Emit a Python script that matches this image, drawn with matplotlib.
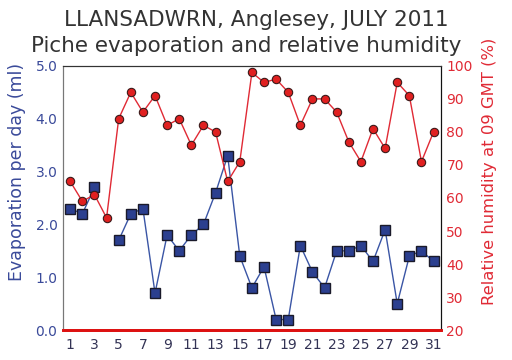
import numpy as np
import matplotlib
matplotlib.use('Agg')
import matplotlib.pyplot as plt

# daily values, July 2011 (day 4 evaporation missing)
days = list(range(1, 32))
evaporation = [2.3, 2.2, 2.7, np.nan, 1.7, 2.2, 2.3, 0.7, 1.8, 1.5,
               1.8, 2.0, 2.6, 3.3, 1.4, 0.8, 1.2, 0.2, 0.2, 1.6,
               1.1, 0.8, 1.5, 1.5, 1.6, 1.3, 1.9, 0.5, 1.4, 1.5, 1.3]
humidity = [65, 59, 61, 54, 84, 92, 86, 91, 82, 84,
            76, 82, 80, 65, 71, 98, 95, 96, 92, 82,
            90, 90, 86, 77, 71, 81, 75, 95, 91, 71, 80]
x_ticks = list(range(1, 32, 2))

blue = '#2b3f8f'
red = '#e02a35'
plt.rcParams['font.family'] = ['DejaVu Sans']

fig = plt.figure(figsize=(5.12, 3.6), dpi=100)
ax = fig.add_axes([0.123, 0.083, 0.738, 0.734])
ax2 = ax.twinx()

ax.plot(days, evaporation, '-', color='#3a55a5', linewidth=1, marker='s',
        markersize=7, markerfacecolor=blue, markeredgecolor='#1a1a2a',
        markeredgewidth=1)
ax2.plot(days, humidity, '-', color=red, linewidth=1, marker='o',
         markersize=6, markerfacecolor='#e02020', markeredgecolor='#3a1a1a',
         markeredgewidth=0.8)

ax.set_xlim(0.4, 31.6)
ax.set_ylim(0, 5)
ax2.set_ylim(20, 100)
ax.set_xticks(x_ticks)
ax.set_yticks(np.arange(0, 5.1, 1.0))
ax.set_yticklabels([f'{v:.1f}' for v in np.arange(0, 5.1, 1.0)])
ax2.set_yticks(range(20, 101, 10))

ax.tick_params(axis='x', length=0, labelsize=10, colors='#333355', pad=6)
ax.tick_params(axis='y', length=0, labelsize=10, colors='#3a4a9a', pad=4)
ax2.tick_params(axis='y', length=0, labelsize=10, colors=red, pad=4)

for a in (ax, ax2):
    a.spines['left'].set_color('#777777')
    a.spines['top'].set_color('#333333')
    a.spines['right'].set_color('#111111')
    a.spines['bottom'].set_color('#dd1111')
    a.spines['bottom'].set_linewidth(2)

ax.set_ylabel('Evaporation per day (ml)', color='#3a4a9a', fontsize=12.5)
ax2.set_ylabel('Relative humidity at 09 GMT (%)', color=red, fontsize=11.8)
ax.yaxis.set_label_coords(-0.097, 0.6)
ax2.yaxis.set_label_coords(1.11, 0.6)

fig.text(0.5, 0.944, 'LLANSADWRN, Anglesey, JULY 2011', ha='center', va='center',
         fontsize=15.5, color='#333333')
fig.text(0.48, 0.873, 'Piche evaporation and relative humidity', ha='center', va='center',
         fontsize=15.5, color='#333333')

fig.savefig('out.png', dpi=100)
